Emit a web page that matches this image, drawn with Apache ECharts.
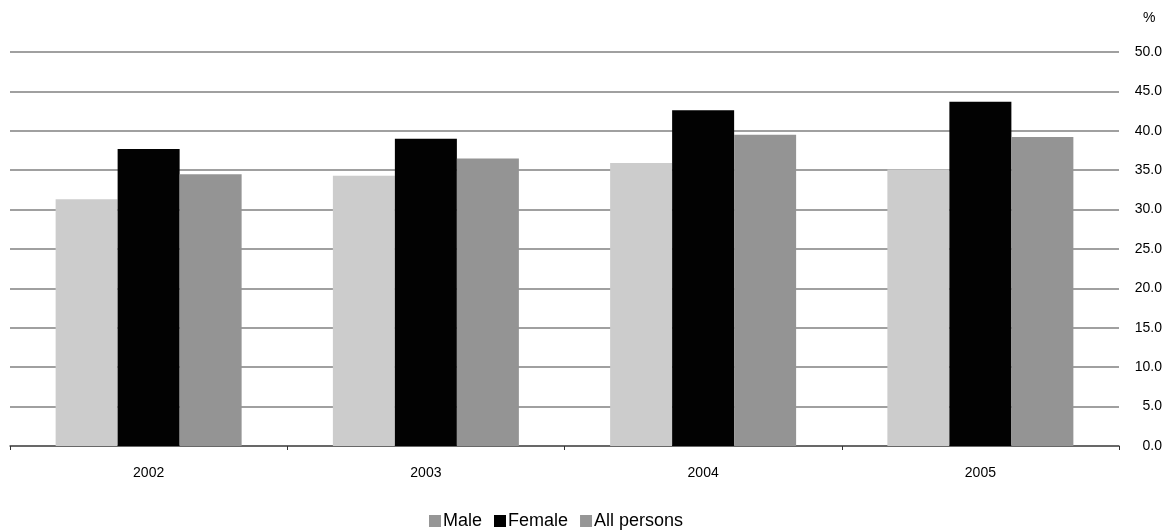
<!DOCTYPE html>
<html><head><meta charset="utf-8">
<script src="https://cdn.jsdelivr.net/npm/echarts@6/dist/echarts.min.js"></script>
<style>html,body{margin:0;padding:0;background:#fff}#c{width:1170px;height:532px}</style>
</head><body><div id="c"></div>
<script>
const categories = ['2002', '2003', '2004', '2005'];
const male = [31.3, 34.3, 35.9, 35.1];
const female = [37.7, 39.0, 42.6, 43.7];
const allPersons = [34.5, 36.5, 39.5, 39.2];
const seriesNames = ['Male', 'Female', 'All persons'];

const font = 'Liberation Sans, Arial, sans-serif';
const chart = echarts.init(document.getElementById('c'), null, {renderer: 'canvas'});
chart.setOption({
  animation: false,
  backgroundColor: '#ffffff',
  graphic: [{type: 'text', left: 1143, top: 11, style: {text: '%', font: '14px ' + font, fill: '#000'}}],
  grid: {left: 10, right: 51, top: 52, bottom: 86, containLabel: false},
  legend: {
    top: 507, left: 424,
    itemWidth: 12, itemHeight: 12, itemGap: 12,
    icon: 'rect',
    textStyle: {fontFamily: font, fontSize: 18, color: '#000', padding: [0, 0, 0, -3]},
    data: [
      {name: 'Male', itemStyle: {color: '#969696'}},
      {name: 'Female', itemStyle: {color: '#000000'}},
      {name: 'All persons', itemStyle: {color: '#969696'}}
    ]
  },
  xAxis: {
    type: 'category', data: categories,
    axisLine: {lineStyle: {color: '#555555', width: 1.5}},
    axisTick: {show: true, length: 4, lineStyle: {color: '#333'}},
    axisLabel: {fontFamily: font, fontSize: 14, color: '#000', margin: 20}
  },
  yAxis: {
    type: 'value', position: 'right', min: 0, max: 50, interval: 5,
    axisLine: {show: false}, axisTick: {show: false},
    axisLabel: {fontFamily: font, fontSize: 14, color: '#000', align: 'right', margin: 43,
      formatter: v => v.toFixed(1)},
    splitLine: {lineStyle: {color: '#a0a0a0', width: 2}}
  },
  series: [
    {name: seriesNames[0], type: 'bar', data: male, barWidth: 62, barGap: '0%', itemStyle: {color: '#cccccc'}},
    {name: seriesNames[1], type: 'bar', data: female, barWidth: 62, barGap: '0%', itemStyle: {color: '#020202'}},
    {name: seriesNames[2], type: 'bar', data: allPersons, barWidth: 62, barGap: '0%', itemStyle: {color: '#949494'}}
  ]
});
</script></body></html>
